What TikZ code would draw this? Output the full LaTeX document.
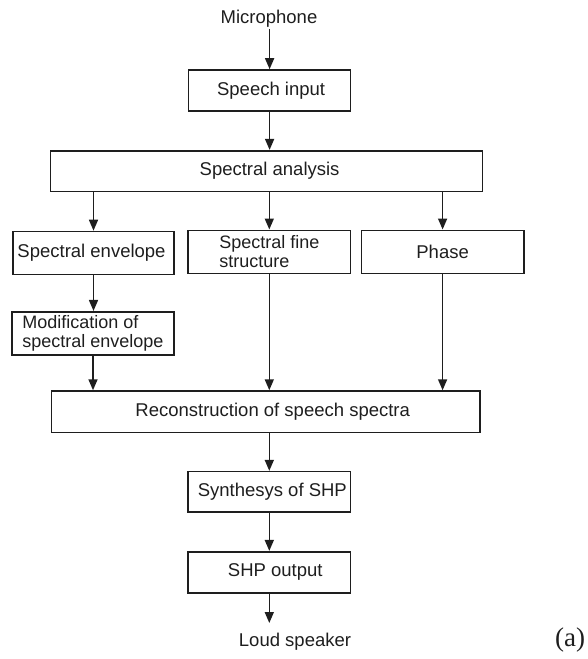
\documentclass[tikz,border=0pt]{standalone}
\usepackage{fontspec}
\setmainfont{Liberation Sans}
\newfontfamily\serifabc{Liberation Serif}
\usetikzlibrary{arrows.meta}
\definecolor{ink}{HTML}{1E1E1E}
\begin{document}
\begin{tikzpicture}[x=1pt,y=-1pt,
  every node/.style={font=\fontsize{18.5}{18.5}\selectfont, text=ink},
  blk/.style={draw=ink, line width=1.6pt, inner sep=0pt, align=center},
  two/.style={align=left, font=\fontsize{18}{18.5}\selectfont},
  lbl/.style={inner sep=1pt},
  flow/.style={draw=ink, line width=1.6pt, -{Triangle[length=11pt,width=9pt]}}]
\useasboundingbox (0,0) rectangle (588,659);
% nodes
\node[lbl] (mic) at (269,19) {Microphone};
\node[blk, minimum width=162pt, minimum height=41pt] (speech) at (269.6,90.5) {\hspace{3pt}Speech input};
\node[blk, minimum width=432pt, minimum height=40.6pt] (ana) at (266.6,171) {\hspace{6pt}Spectral analysis};
\node[blk, minimum width=161pt, minimum height=43pt] (env) at (93.5,253) {Spectral envelope\hspace{4pt}};
\node[blk, two, minimum width=162.6pt, minimum height=43pt] (fine) at (269.3,251.8) {Spectral fine\\structure};
\node[blk, minimum width=162.3pt, minimum height=43pt] (phase) at (442.6,251.8) {Phase};
\node[blk, two, minimum width=162pt, minimum height=43.3pt] (mod) at (93,333.4) {Modification of\\spectral envelope\hspace{3pt}};
\node[blk, minimum width=428.6pt, minimum height=41.3pt] (rec) at (265.7,411.7) {\hspace{14pt}Reconstruction of speech spectra};
\node[blk, minimum width=162.6pt, minimum height=40.3pt] (syn) at (269.3,491.8) {\hspace{6pt}Synthesys of SHP};
\node[blk, minimum width=162.6pt, minimum height=41pt] (shp) at (269.3,572.2) {\hspace{12pt}SHP output};
\coordinate (spk) at (269.3,623);
\node[lbl] (loud) at (295,642) {Loud speaker};
\node[lbl, font=\serifabc\fontsize{27}{30}\selectfont] (tag) at (570,640) {(a)};
% connectors
\draw[flow] (mic.south -| speech.north) -- (speech.north);
\draw[flow] (speech.south) -- (speech.south |- ana.north);
\draw[flow] (ana.south -| env.north) -- (env.north);
\draw[flow] (ana.south -| fine.north) -- (fine.north);
\draw[flow] (ana.south -| phase.north) -- (phase.north);
\draw[flow] (env.south) -- (env.south |- mod.north);
\draw[flow] (mod.south) -- (mod.south |- rec.north);
\draw[flow] (fine.south) -- (fine.south |- rec.north);
\draw[flow] (phase.south) -- (phase.south |- rec.north);
\draw[flow] (rec.south -| syn.north) -- (syn.north);
\draw[flow] (syn.south) -- (shp.north);
\draw[flow] (shp.south) -- (spk);
\end{tikzpicture}
\end{document}
